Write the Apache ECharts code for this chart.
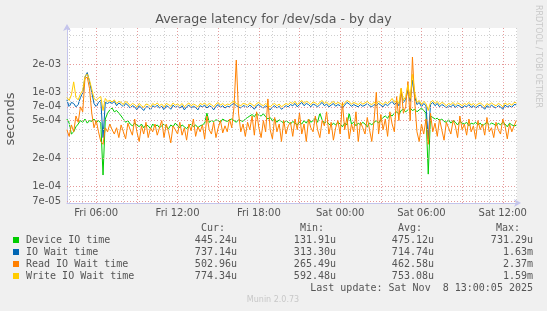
<!DOCTYPE html>
<html><head><meta charset="utf-8">
<script src="https://cdn.jsdelivr.net/npm/echarts@6/dist/echarts.min.js"></script>
<style>html,body{margin:0;padding:0;background:#f0f0f0}#c{width:547px;height:311px}</style>
</head><body><div id="c"></div>
<script>
// Samples every 10 minutes, starting Fri 03:50 (hours since Fri 00:00), values in microseconds
const startHour = 3 + 50 / 60;
const stepHour = 1 / 6;

const deviceIO = [
520,470,360,380,430,460,500,480,520,470,
500,490,520,480,500,470,132,520,600,650,
680,620,640,600,560,520,480,500,460,440,
470,450,430,460,420,450,440,410,460,430,
450,420,440,460,430,410,450,430,470,440,
420,450,430,410,440,460,430,450,420,440,
450,470,600,480,500,490,510,500,480,520,
500,490,510,520,500,480,510,500,490,520,
540,560,580,550,600,570,560,590,550,520,
540,500,520,480,510,490,470,500,480,460,
490,470,450,480,460,500,470,520,480,500,
530,480,600,510,470,490,460,440,470,450,
480,460,430,470,450,600,460,480,440,470,
450,480,460,430,470,450,480,500,470,510,
540,560,530,580,560,600,620,580,640,660,
620,650,680,640,660,620,650,680,640,600,
135,560,540,520,530,500,520,490,480,510,
470,500,480,450,490,470,460,480,440,470,
460,480,450,470,440,460,480,450,470,460,
440,470,450,480,460,430,470,450,440,445];

const ioWait = [
830,700,780,760,700,740,880,980,1450,1620,
1300,1000,760,700,780,820,330,780,760,790,
760,800,720,770,740,700,760,730,680,720,
700,650,720,680,640,700,700,650,720,690,
730,680,710,650,720,700,660,730,690,710,
680,720,650,700,730,680,710,690,650,720,
700,730,680,720,700,650,710,740,690,720,
680,710,700,740,760,720,700,680,720,710,
690,730,700,660,720,740,700,680,720,690,
650,700,720,680,710,660,690,720,700,740,
720,760,700,740,780,720,760,740,700,750,
730,700,740,780,720,750,700,730,760,710,
740,720,680,730,780,750,710,740,720,700,
740,710,730,760,720,700,740,720,760,730,
700,750,720,760,800,740,780,720,1000,780,
840,1050,800,1350,900,740,780,700,760,720,
320,740,780,720,760,700,740,720,680,720,
700,740,690,730,710,680,720,700,740,690,
720,680,710,730,700,660,720,690,730,700,
680,720,700,660,730,700,720,690,740,737];

const readWait = [
400,340,450,380,560,480,700,620,1400,1450,
1100,600,420,500,380,300,280,420,380,460,
400,360,420,330,450,380,320,470,400,350,
520,380,300,440,360,480,330,420,380,460,
350,420,500,330,460,380,290,440,400,360,
480,350,420,310,460,390,520,340,430,380,
450,320,560,400,360,480,330,420,500,370,
440,380,520,420,700,2200,600,380,460,340,
480,400,560,350,620,420,330,500,380,850,
400,320,540,380,460,300,500,360,440,480,
340,520,400,600,360,460,300,520,420,380,
560,400,330,500,440,620,360,480,310,420,
500,360,780,400,540,320,460,380,620,300,
480,420,360,540,400,300,500,1000,360,580,
400,520,340,620,460,380,900,500,1100,600,
700,1300,500,2370,800,380,300,460,360,520,
280,600,380,470,340,520,400,310,480,420,
360,500,440,330,560,400,460,350,520,380,
440,320,500,400,460,350,540,380,420,330,
480,400,360,520,440,320,460,380,440,503];

const writeWait = [
880,820,940,1290,880,830,960,1050,1480,1560,
1350,1080,860,820,870,900,640,860,800,820,
790,830,760,800,780,740,800,770,720,760,
740,700,760,720,690,750,740,700,760,730,
770,720,750,700,760,740,710,770,730,750,
720,760,700,740,770,720,750,730,700,760,
740,770,720,760,740,700,750,780,730,760,
720,750,740,780,800,760,740,720,760,750,
730,770,740,710,760,780,740,720,760,730,
700,740,760,720,750,700,730,760,740,780,
760,800,740,780,820,760,800,780,740,790,
770,740,780,820,760,790,740,770,800,750,
780,760,720,770,820,790,750,780,760,740,
780,750,770,800,760,740,780,760,800,770,
740,790,760,800,860,780,820,760,1100,820,
900,1200,860,1550,1000,780,820,740,800,760,
640,780,820,760,800,740,780,760,720,760,
740,780,730,770,750,720,760,740,780,730,
760,720,750,770,740,700,760,730,770,740,
720,760,740,700,770,740,760,730,780,774];

const seriesNames = ['Device IO time', 'IO Wait time', 'Read IO Wait time', 'Write IO Wait time'];
const seriesColors = ['#00cc00', '#0066b3', '#ff8000', '#ffcc00'];
const statCur = ['445.24u', '737.14u', '502.96u', '774.34u'];
const statMin = ['131.91u', '313.30u', '265.49u', '592.48u'];
const statAvg = ['475.12u', '714.74u', '462.58u', '753.08u'];
const statMax = ['731.29u', '1.63m', '2.37m', '1.59m'];

const xTickHours = [6, 12, 18, 24, 30, 36];
const xTickLabels = ['Fri 06:00', 'Fri 12:00', 'Fri 18:00', 'Sat 00:00', 'Sat 06:00', 'Sat 12:00'];
const yTickValues = [7e-5, 1e-4, 2e-4, 5e-4, 7e-4, 1e-3, 2e-3];
const yTickLabels = ['7e-05', '1e-04', '2e-04', '5e-04', '7e-04', '1e-03', '2e-03'];
const yMinorValues = [8e-5, 9e-5, 3e-4, 4e-4, 6e-4, 8e-4, 9e-4, 3e-3, 4e-3];

const X_MIN = 3.84, X_MAX = 37.05;
const Y_MIN = 6.66e-5, Y_MAX = 4.82e-3;

function toPairs(arr) {
  return arr.map((v, i) => [startHour + i * stepHour, v * 1e-6]);
}

const minorStyle = { color: '#cfcfcf', type: [1, 2], width: 1 };
const majorStyle = { color: '#e59a9a', type: [1, 2], width: 1 };

const gridLines = [];
for (let h = 4; h <= 37; h++) {
  gridLines.push({ xAxis: h, lineStyle: h % 3 === 0 ? majorStyle : minorStyle });
}
yMinorValues.forEach(v => gridLines.push([
  { coord: [X_MIN, v], lineStyle: minorStyle },
  { coord: [X_MAX, v], lineStyle: minorStyle }
]));
yTickValues.forEach((v, i) => gridLines.push([
  { coord: [X_MIN, v], lineStyle: majorStyle,
    label: { show: true, position: 'start', formatter: yTickLabels[i], distance: 6,
      color: '#555', fontSize: 10, fontFamily: 'DejaVu Sans' } },
  { coord: [X_MAX, v], lineStyle: majorStyle }
]));

const dataSeries = [deviceIO, ioWait, readWait, writeWait].map((arr, k) => ({
  name: seriesNames[k], type: 'line', data: toPairs(arr), showSymbol: false, symbol: 'none',
  lineStyle: { width: 1, color: seriesColors[k] }, itemStyle: { color: seriesColors[k] },
  z: 3 + k, animation: false, silent: true
}));

const mono = 'DejaVu Sans Mono';
const graphics = [
  { type: 'text', left: 'center', top: 13, style: { text: 'Average latency for /dev/sda - by day',
      font: '12.6px "DejaVu Sans"', fill: '#555' } },
  { type: 'text', x: 11, y: 119, rotation: Math.PI / 2, style: { text: 'seconds',
      font: '13px "DejaVu Sans"', fill: '#555', textAlign: 'center', textVerticalAlign: 'middle' } },
  { type: 'text', x: 538, y: 5, rotation: -Math.PI / 2, style: { text: 'RRDTOOL / TOBI OETIKER',
      font: '8px "DejaVu Sans"', fill: '#c8c8c8', textAlign: 'left', textVerticalAlign: 'middle' } },
  { type: 'text', x: 225, y: 228, style: { text: 'Cur:', font: '10px "' + mono + '"', fill: '#555', textAlign: 'right', textVerticalAlign: 'middle' } },
  { type: 'text', x: 324, y: 228, style: { text: 'Min:', font: '10px "' + mono + '"', fill: '#555', textAlign: 'right', textVerticalAlign: 'middle' } },
  { type: 'text', x: 422, y: 228, style: { text: 'Avg:', font: '10px "' + mono + '"', fill: '#555', textAlign: 'right', textVerticalAlign: 'middle' } },
  { type: 'text', x: 520, y: 228, style: { text: 'Max:', font: '10px "' + mono + '"', fill: '#555', textAlign: 'right', textVerticalAlign: 'middle' } },
  { type: 'text', x: 533, y: 288, style: { text: 'Last update: Sat Nov  8 13:00:05 2025', font: '10px "' + mono + '"', fill: '#555', textAlign: 'right', textVerticalAlign: 'middle' } },
  { type: 'text', x: 273, y: 300, style: { text: 'Munin 2.0.73', font: '8px "DejaVu Sans"', fill: '#c8c8c8', textAlign: 'center', textVerticalAlign: 'middle' } }
];
seriesNames.forEach((name, k) => {
  const y = 240 + k * 12;
  graphics.push({ type: 'rect', shape: { x: 13, y: y - 3, width: 6, height: 6 }, style: { fill: seriesColors[k] } });
  graphics.push({ type: 'text', x: 26, y: y, style: { text: name, font: '10px "' + mono + '"', fill: '#555', textVerticalAlign: 'middle' } });
  [[statCur, 237], [statMin, 336], [statAvg, 434], [statMax, 533]].forEach(([arr, xr]) => {
    graphics.push({ type: 'text', x: xr, y: y, style: { text: arr[k], font: '10px "' + mono + '"', fill: '#555', textAlign: 'right', textVerticalAlign: 'middle' } });
  });
});

const chart = echarts.init(document.getElementById('c'), null, { renderer: 'canvas' });
chart.setOption({
  animation: false,
  backgroundColor: '#f0f0f0',
  grid: { left: 67, right: 30, top: 28, bottom: 108, show: true, backgroundColor: '#ffffff', borderWidth: 0 },
  xAxis: {
    type: 'value', min: X_MIN, max: X_MAX,
    axisLine: { show: true, lineStyle: { color: '#c4c4ec', width: 1 }, symbol: ['none', 'arrow'], symbolSize: [6, 7], symbolOffset: [0, 4] },
    axisTick: { show: false },
    splitLine: { show: false },
    axisLabel: {
      customValues: xTickHours, margin: 5, color: '#555', fontSize: 10, fontFamily: 'DejaVu Sans',
      formatter: v => xTickLabels[xTickHours.indexOf(Math.round(v))] || ''
    }
  },
  yAxis: {
    type: 'log', logBase: 10, min: Y_MIN, max: Y_MAX,
    axisLine: { show: true, lineStyle: { color: '#c4c4ec', width: 1 }, symbol: ['none', 'arrow'], symbolSize: [6, 7], symbolOffset: [0, 4] },
    axisTick: { show: false }, axisLabel: { show: false }, splitLine: { show: false }, minorSplitLine: { show: false }
  },
  graphic: graphics,
  series: [
    { type: 'line', data: [], z: 1, silent: true, animation: false,
      markLine: { silent: true, symbol: ['none', 'none'], animation: false, label: { show: false }, data: gridLines } }
  ].concat(dataSeries)
});
</script></body></html>
